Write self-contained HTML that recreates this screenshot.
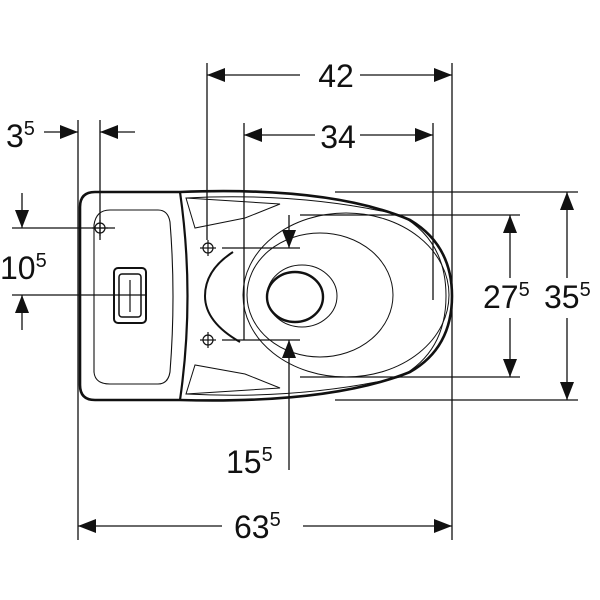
<!DOCTYPE html>
<html><head><style>
html,body{margin:0;padding:0;background:#fff;width:600px;height:600px;overflow:hidden}
text{font-family:"Liberation Sans",sans-serif;fill:#111}
</style></head><body>
<svg width="600" height="600" viewBox="0 0 600 600" xmlns="http://www.w3.org/2000/svg">
<defs>
<marker id="a" viewBox="0 0 18 14" refX="18" refY="7" markerWidth="18" markerHeight="14" markerUnits="userSpaceOnUse" orient="auto"><path d="M0,0L18,7L0,14z" fill="#111"/></marker>
</defs>
<g stroke="#111" stroke-width="1.3" fill="none">
<line x1="207" y1="63" x2="207" y2="240"/>
<line x1="452" y1="63" x2="452" y2="540"/>
<line x1="244" y1="123" x2="244" y2="340"/>
<line x1="433" y1="123" x2="433" y2="300"/>
<line x1="78" y1="120" x2="78" y2="540"/>
<line x1="100" y1="120" x2="100" y2="240"/>
<line x1="335" y1="192" x2="578" y2="192"/>
<line x1="335" y1="400" x2="578" y2="400"/>
<line x1="300" y1="215" x2="520" y2="215"/>
<line x1="300" y1="377" x2="520" y2="377"/>
<line x1="12" y1="228" x2="115" y2="228"/>
<line x1="12" y1="295" x2="145" y2="295"/>
<line x1="222" y1="248" x2="300" y2="248"/>
<line x1="222" y1="340" x2="300" y2="340"/>
<line x1="300" y1="75" x2="207" y2="75" marker-end="url(#a)"/>
<line x1="360" y1="75" x2="452" y2="75" marker-end="url(#a)"/>
<line x1="315" y1="135" x2="244" y2="135" marker-end="url(#a)"/>
<line x1="360" y1="135" x2="433" y2="135" marker-end="url(#a)"/>
<line x1="44" y1="132" x2="78" y2="132" marker-end="url(#a)"/>
<line x1="135" y1="132" x2="100" y2="132" marker-end="url(#a)"/>
<line x1="22" y1="193" x2="22" y2="228" marker-end="url(#a)"/>
<line x1="22" y1="330" x2="22" y2="295" marker-end="url(#a)"/>
<line x1="510" y1="278" x2="510" y2="215" marker-end="url(#a)"/>
<line x1="510" y1="318" x2="510" y2="377" marker-end="url(#a)"/>
<line x1="567" y1="278" x2="567" y2="192" marker-end="url(#a)"/>
<line x1="567" y1="318" x2="567" y2="400" marker-end="url(#a)"/>
<line x1="289" y1="215" x2="289" y2="248" marker-end="url(#a)"/>
<line x1="289" y1="470" x2="289" y2="340" marker-end="url(#a)"/>
<line x1="222" y1="526" x2="78" y2="526" marker-end="url(#a)"/>
<line x1="303" y1="526" x2="452" y2="526" marker-end="url(#a)"/>
</g>
<g stroke="#111" fill="none">
<path d="M95,192 L180,192 Q330,186 410,220 Q452,245 452,296 Q452,348 410,372 Q330,404 180,400 L95,400 Q80,400 80,385 L80,207 Q80,192 95,192 Z" stroke-width="2.6"/>
<path d="M180,192 Q195,296 180,400" stroke-width="2.2"/>
<path d="M110,210 L158,210 Q168,210 170,222 Q176,296 170,372 Q168,384 158,384 L110,384 Q95,384 94,372 L94,225 Q96,210 110,210 Z" stroke-width="1.1"/>
<rect x="114" y="268" width="32" height="55" rx="4" stroke-width="2"/>
<rect x="119" y="274" width="22" height="43" rx="3" stroke-width="1.5"/>
<path d="M186,198 Q300,192 400,215 Q446,240 446,296 Q446,352 400,377 Q300,400 186,394" stroke-width="1"/>
<path d="M186,198 L280,204 L245,218 L195,228 Z" stroke-width="1"/>
<path d="M186,394 L280,388 L245,374 L195,365 Z" stroke-width="1"/>
<path d="M233,252 Q205,270 205,296 Q205,322 240,342" stroke-width="2"/>
<ellipse cx="346" cy="295" rx="103" ry="82" stroke-width="1"/>
<ellipse cx="320" cy="295" rx="73" ry="62" stroke-width="1"/>
<ellipse cx="302" cy="296" rx="35" ry="31" stroke-width="1"/>
<ellipse cx="295" cy="297" rx="28" ry="25" stroke-width="2.4"/>
<g stroke-width="1.2">
<circle cx="208" cy="248" r="5"/><line x1="200" y1="248" x2="216" y2="248"/><line x1="208" y1="240" x2="208" y2="256"/>
<circle cx="208" cy="340" r="5"/><line x1="200" y1="340" x2="216" y2="340"/><line x1="208" y1="332" x2="208" y2="348"/>
<circle cx="100" cy="228" r="5"/><line x1="92" y1="228" x2="108" y2="228"/><line x1="100" y1="220" x2="100" y2="236"/>
<line x1="130" y1="280" x2="130" y2="312"/>
</g>
</g>
<text x="336" y="87" font-size="32" text-anchor="middle">42</text>
<text x="338" y="148" font-size="32" text-anchor="middle">34</text>
<text x="6" y="147" font-size="32">3<tspan font-size="20" dy="-12">5</tspan></text>
<text x="0" y="279" font-size="32">10<tspan font-size="20" dy="-12">5</tspan></text>
<text x="483" y="308" font-size="32">27<tspan font-size="20" dy="-12">5</tspan></text>
<text x="544" y="308" font-size="32">35<tspan font-size="20" dy="-12">5</tspan></text>
<text x="226" y="473" font-size="32">15<tspan font-size="20" dy="-12">5</tspan></text>
<text x="234" y="538" font-size="32">63<tspan font-size="20" dy="-12">5</tspan></text>
</svg>
</body></html>
